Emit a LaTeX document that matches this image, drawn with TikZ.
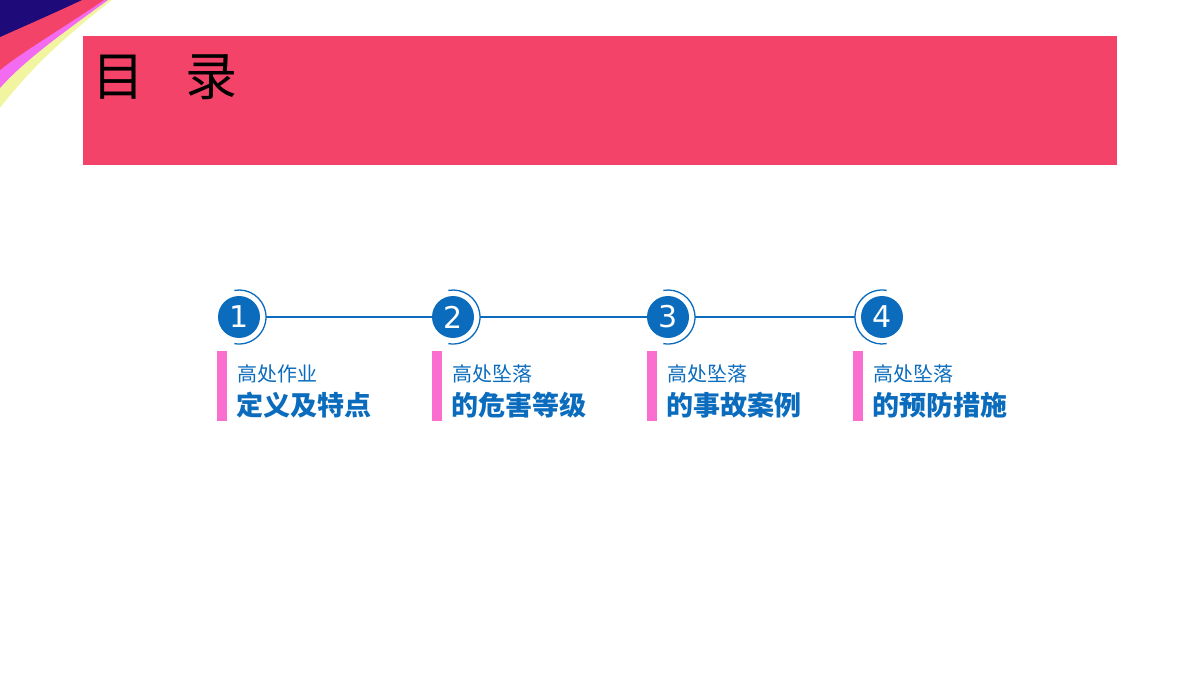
\documentclass[tikz,border=0pt]{standalone}
\usepackage{fontspec}
\usetikzlibrary{calc}
\newfontfamily\cjk{Noto Sans CJK SC}
\setmainfont{DejaVu Sans}
\definecolor{hdr}{HTML}{F34369}
\definecolor{navy}{HTML}{1E0A78}
\definecolor{pinkbar}{HTML}{FA6ECF}
\definecolor{mag}{HTML}{F36BF0}
\definecolor{ylw}{HTML}{F1F5A0}
\definecolor{bl}{HTML}{0B6CBD}
\begin{document}
\begin{tikzpicture}[x=1pt,y=-1pt,
  num/.style={circle,fill=bl,minimum size=42pt,inner sep=0pt,text=white,font=\fontsize{30}{30}\selectfont},
  bar/.style={fill=pinkbar},
  small/.style={anchor=west,inner sep=0pt,text=bl,font=\cjk\fontsize{20}{20}\selectfont},
  big/.style={anchor=west,inner sep=0pt,text=bl,font=\cjk\bfseries\fontsize{27}{27}\selectfont},
  ring/.style={draw=bl,line width=1.3pt}]
\useasboundingbox (0,0) rectangle (1200,674);
\fill[white] (0,0) rectangle (1200,674);
% corner fan
\fill[ylw] (0,0) -- (112,0) .. controls (60,40) and (25,75) .. (0,108) -- cycle;
\fill[mag] (0,0) -- (108,0) .. controls (60,35) and (25,60) .. (0,88) -- cycle;
\fill[hdr] (0,0) -- (104,0) .. controls (60,30) and (25,50) .. (0,70) -- cycle;
\fill[navy] (0,0) -- (82,0) .. controls (50,15) and (20,28) .. (0,37) -- cycle;
% header
\fill[hdr] (83,36) rectangle (1117,165);
\node[anchor=west,inner sep=0pt,font=\cjk\fontsize{52}{52}\selectfont] (title) at (92,77) {目\hspace{0.8em}录};
% steps
\node[num] (c1) at (239,317) {1};
\node[num] (c2) at (453,317) {2};
\node[num] (c3) at (668,317) {3};
\node[num] (c4) at (882,317) {4};
\foreach \c in {c1,c2,c3}{
  \draw[ring] (\c) ++(-100:27) arc[start angle=-100,end angle=100,radius=27];
}
\draw[ring] (c4) ++(80:27) arc[start angle=80,end angle=280,radius=27];
\draw[bl,line width=1.3pt] ($(c1)+(27,0)$) -- (c2.west);
\draw[bl,line width=1.3pt] ($(c2)+(27,0)$) -- (c3.west);
\draw[bl,line width=1.3pt] ($(c3)+(27,0)$) -- ($(c4)+(-27,0)$);
\foreach \x/\a/\b [count=\i] in {217/高处作业/定义及特点,432/高处坠落/的危害等级,647/高处坠落/的事故案例,853/高处坠落/的预防措施}{
  \fill[bar] (\x,351) rectangle (\x+10,421);
  \node[small] (s\i) at (\x+20,374) {\a};
  \node[big] (b\i) at (\x+19,405) {\b};
}
\end{tikzpicture}
\end{document}
